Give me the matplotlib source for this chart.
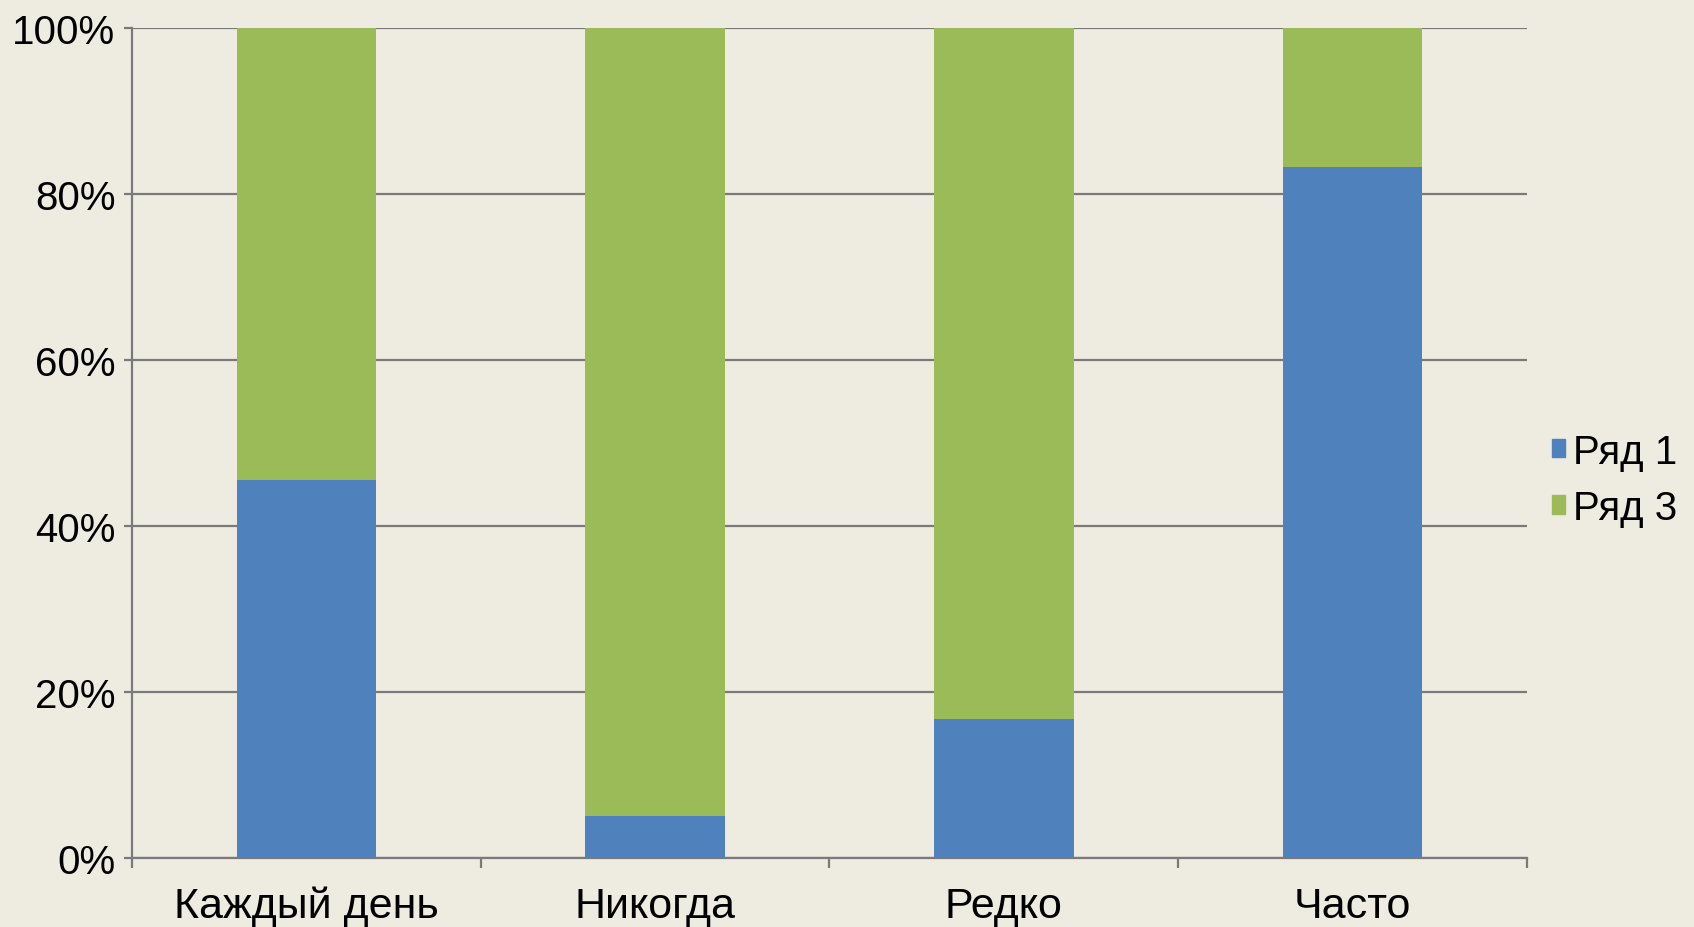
import matplotlib.pyplot as plt
import numpy as np
from matplotlib.patches import Patch

# data (percent of each column)
categories = ["Каждый день", "Никогда", "Редко", "Часто"]
row1 = [45.5, 5.0, 16.7, 83.3]
row3 = [54.5, 95.0, 83.3, 16.7]
series_names = ["Ряд 1", "Ряд 3"]
y_ticks = [0, 20, 40, 60, 80, 100]

bg = "#EEEBE0"
blue = "#4F81BD"
green = "#9BBB59"
grid_col = "#7A7A7A"

plt.rcParams["font.family"] = ["Liberation Sans", "DejaVu Sans"]

fig = plt.figure(figsize=(16.94, 9.28), dpi=100, facecolor=bg)
ax = fig.add_axes([0.0779, 0.0744, 0.8235, 0.8944])
ax.set_facecolor(bg)

x = np.arange(len(categories))
ax.bar(x, row1, width=0.4, color=blue, zorder=3)
ax.bar(x, row3, width=0.4, bottom=row1, color=green, zorder=3)

ax.set_xlim(-0.5, len(categories) - 0.5)
ax.set_ylim(0, 100)
ax.set_yticks(y_ticks)
ax.set_yticklabels([f"{t}%" for t in y_ticks])
ax.yaxis.grid(True, color=grid_col, linewidth=1.6, zorder=0)
ax.set_axisbelow(True)

# category labels centred, ticks on the boundaries
ax.set_xticks(x)
ax.set_xticklabels(categories)
ax.set_xticks(np.arange(len(categories) + 1) - 0.5, minor=True)
ax.tick_params(axis="x", which="major", length=0, pad=20, labelsize=31)
ax.tick_params(axis="x", which="minor", length=7, width=1.6, color=grid_col)
ax.tick_params(axis="y", length=6, width=1.6, color=grid_col, pad=6,
               labelsize=29)

for side in ["top", "right"]:
    ax.spines[side].set_visible(False)
for side in ["left", "bottom"]:
    ax.spines[side].set_color(grid_col)
    ax.spines[side].set_linewidth(1.6)

handles = [Patch(color=blue), Patch(color=green)]
fig.legend(handles, series_names, loc="center left",
           bbox_to_anchor=(0.916, 0.482), frameon=False, fontsize=29,
           handlelength=0.33, handleheight=0.33, handletextpad=0.2,
           borderpad=0, borderaxespad=0, labelspacing=0.45)

fig.savefig("out.png", dpi=100, facecolor=bg)
